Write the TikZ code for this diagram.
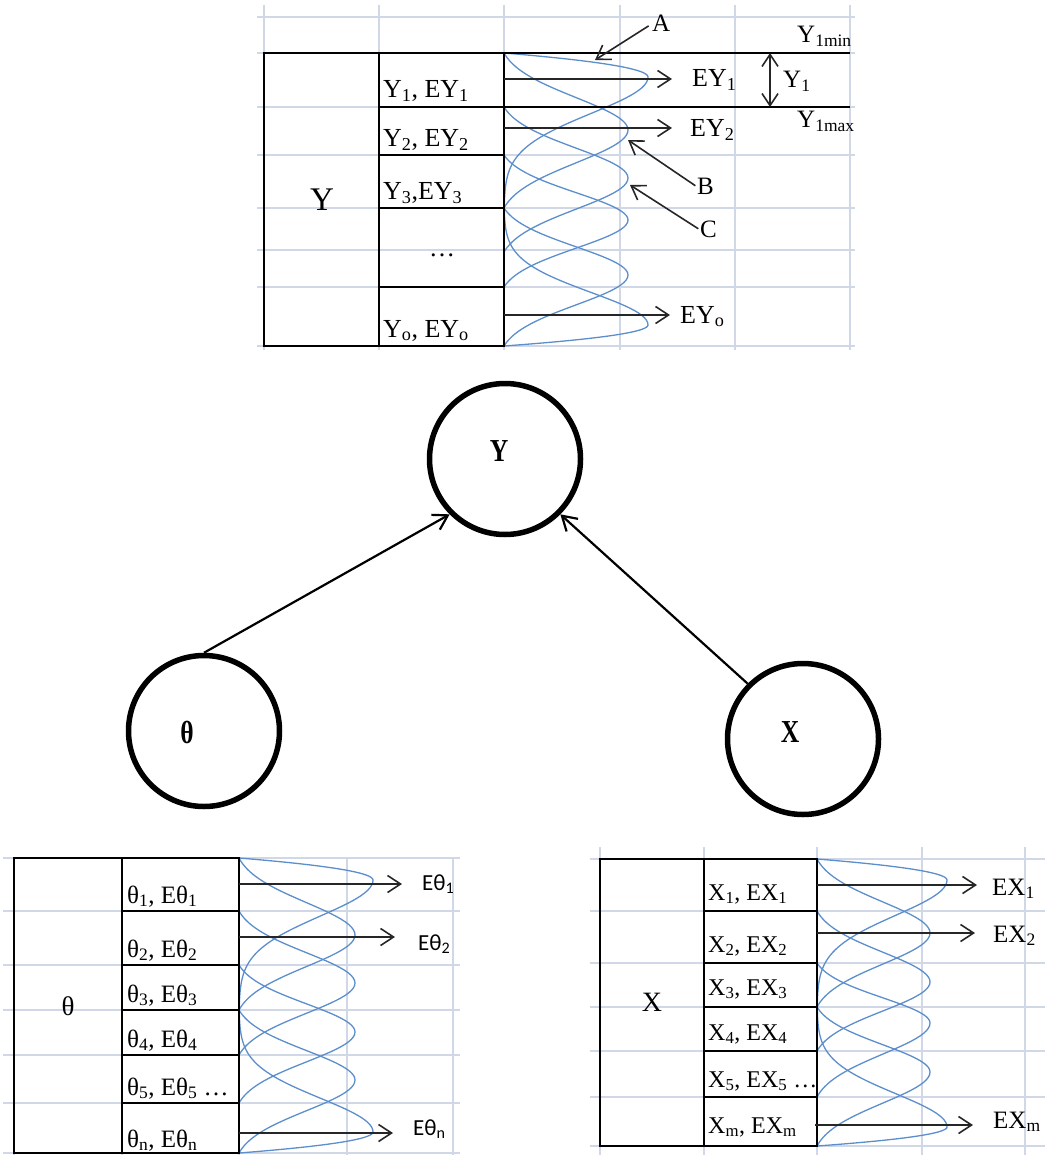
\documentclass[tikz,border=0pt]{standalone}
\usepackage{fontspec}
\setmainfont{Liberation Serif}
\newfontfamily\calibrifont{Carlito}
\usetikzlibrary{arrows.meta}

\definecolor{gridc}{RGB}{208,216,232}
\definecolor{bellc}{RGB}{92,142,204}
\definecolor{arrowc}{RGB}{38,38,38}

% 一组钟形曲线:首/末两条不对称,中间几条对称
% #1 左边界 x0, #2 顶 y, #3 首峰 y, #4 中线 y, #5 末峰 y, #6 底 y
% #7 首末峰宽, #8 中间峰宽, #9 中间曲线 起点/峰/终点 列表
\newcommand{\drawbells}[9]{%
	\draw[bellLine]
		plot[domain=#2:#3, samples=20] ({#1+#7*bellcap((\x-#3)/(#3-#2))}, \x)
		-- plot[domain=#3:#4, samples=50] ({#1+#7*belltail((\x-#3)/(#4-#3))}, \x)
		-- plot[domain=#4:#5, samples=50] ({#1+#7*belltail((\x-#5)/(#5-#4))}, \x)
		-- plot[domain=#5:#6, samples=20] ({#1+#7*bellcap((\x-#5)/(#6-#5))}, \x);
	\foreach \ya/\ym/\yb in {#9} {
		\draw[bellLine]
			plot[domain=\ya:\ym, samples=30] ({#1+#8*bellmid((\x-\ym)/(\ym-\ya))}, \x)
			-- plot[domain=\ym:\yb, samples=30] ({#1+#8*bellmid((\x-\ym)/(\yb-\ym))}, \x);
	}
}

\begin{document}
\begin{tikzpicture}[x=1pt, y=-1pt,
	declare function={
		bellmid(\t)=(exp(-2.83*\t*\t)-0.059)/0.941;
		belltail(\t)=exp(-6.5*\t*\t);
		bellcap(\t)=1-\t*\t;
	},
	gridLine/.style={draw=gridc, line width=1.2pt},
	bellLine/.style={draw=bellc, line width=1.3pt},
	tableLine/.style={draw=black, line width=1.6pt},
	pointer/.style={-{Straight Barb[length=13pt,width=17pt]}, draw=arrowc, line width=1.6pt},
	span/.style={{Straight Barb[length=12pt,width=16pt]}-{Straight Barb[length=12pt,width=16pt]}, draw=arrowc, line width=1.6pt},
	edgeLine/.style={-{Straight Barb[length=14pt,width=17pt]}, draw=black, line width=2.2pt},
	ring/.style={circle, draw=black, line width=5.5pt, minimum size=151pt, inner sep=0pt},
	ringLab/.style={inner sep=0pt, font=\bfseries\fontsize{32}{34}\selectfont},
	cellText/.style={anchor=base west, inner sep=0pt},
	mainLab/.style={inner sep=0pt},
]
	\useasboundingbox (0,0) rectangle (1045,1155);

	% ==================================================
	% 1. 网格线 (表格底纹)
	% ==================================================
	\foreach \gx in {264,379,504,620,735,850} \draw[gridLine] (\gx,5) -- (\gx,350);
	\foreach \gy in {17,53,107,155,208,250,287,346} \draw[gridLine] (257,\gy) -- (855,\gy);
	\foreach \gx in {14,122,239,347,453} \draw[gridLine] (\gx,858) -- (\gx,1155);
	\foreach \gy in {858,911,965,1010,1055,1103,1153} \draw[gridLine] (3,\gy) -- (460,\gy);
	\foreach \gx in {600,704,817,922,1025} \draw[gridLine] (\gx,847) -- (\gx,1155);
	\foreach \gy in {859,911,963,1007,1051,1097,1146} \draw[gridLine] (590,\gy) -- (1045,\gy);

	% ==================================================
	% 2. 钟形曲线
	% ==================================================
	\drawbells{504}{53}{77}{208}{325}{346}{144}{124}{53/130/208, 107/178/252, 155/220/287, 208/275/346}
	\drawbells{239}{858}{880}{1010}{1132}{1153}{134}{116}{858/935/1010, 911/983/1055, 965/1032/1103, 1010/1080/1153}
	\drawbells{817}{859}{880}{1007}{1127}{1146}{130}{113}{859/933/1007, 911/982/1051, 963/1023/1097, 1007/1072/1146}

	% ==================================================
	% 3. 表格 Y
	% ==================================================
	\draw[tableLine] (264,53) rectangle (504,346);
	\draw[tableLine] (379,53) -- (379,346);
	\foreach \ry in {107,155,208,287} \draw[tableLine] (379,\ry) -- (504,\ry);
	\draw[tableLine] (504,53) -- (850,53);
	\draw[tableLine] (504,107) -- (850,107);

	\node[mainLab, font=\fontsize{33}{36}\selectfont] (ymain) at (322,200) {Y};
	\begin{scope}[every node/.append style={font=\fontsize{26}{30}\selectfont}]
		\node[cellText] (y1) at (383,98) {Y\textsubscript{1}, EY\textsubscript{1}};
		\node[cellText] (y2) at (383,147) {Y\textsubscript{2}, EY\textsubscript{2}};
		\node[cellText] (y3) at (383,200) {Y\textsubscript{3},EY\textsubscript{3}};
		\node[cellText, anchor=base] (ydots) at (442,257) {…};
		\node[cellText] (yo) at (383,337) {Y\textsubscript{o}, EY\textsubscript{o}};

		\node[cellText] (ey1) at (692,87) {EY\textsubscript{1}};
		\node[cellText] (ey2) at (690,137) {EY\textsubscript{2}};
		\node[cellText] (eyo) at (680,323) {EY\textsubscript{o}};
	\end{scope}

	% 期望值箭头
	\coordinate (ey1a) at (504,79);  \coordinate (ey1b) at (672,79);
	\coordinate (ey2a) at (504,128); \coordinate (ey2b) at (672,128);
	\coordinate (eyoa) at (504,315); \coordinate (eyob) at (670,315);
	\draw[pointer] (ey1a) -- (ey1b);
	\draw[pointer] (ey2a) -- (ey2b);
	\draw[pointer] (eyoa) -- (eyob);

	% 区间 Y1
	\coordinate (ymin) at (770,53);
	\coordinate (ymax) at (770,107);
	\draw[span] (ymin) -- (ymax);
	\begin{scope}[every node/.append style={font=\fontsize{25}{28}\selectfont}]
		\node[cellText] (yint) at (783,88) {Y\textsubscript{1}};
		\node[cellText] (yminlab) at (797,43) {Y\textsubscript{1min}};
		\node[cellText] (ymaxlab) at (797,128) {Y\textsubscript{1max}};

		% 曲线标注 A B C
		\node[cellText] (labA) at (652,32) {A};
		\node[cellText] (labB) at (697,195) {B};
		\node[cellText] (labC) at (700,238) {C};
	\end{scope}
	\coordinate (tipA) at (595,60);
	\coordinate (tipB) at (628,140);
	\coordinate (tipC) at (630,185);
	\draw[pointer, shorten <=4pt] (labA.west) -- (tipA);
	\draw[pointer, shorten <=2pt] (labB.west) -- (tipB);
	\draw[pointer, shorten <=2pt] (labC.west) -- (tipC);

	% ==================================================
	% 4. 中间的三个节点
	% ==================================================
	\node[ring] (Y) at (505,459) {};
	\node[ring] (theta) at (204,731) {};
	\node[ring] (X) at (803,739) {};
	\node[ringLab] (Ytxt) at (499,451) {\scalebox{0.8}[1]{Y}};
	\node[ringLab] (thetatxt) at (187,732) {\scalebox{0.8}[1]{θ}};
	\node[ringLab] (Xtxt) at (790,732) {\scalebox{0.8}[1]{X}};

	\draw[edgeLine] (theta.north) -- (Y.225);
	\draw[edgeLine] (X.135) -- (Y.315);

	% ==================================================
	% 5. 表格 theta
	% ==================================================
	\draw[tableLine] (14,858) rectangle (239,1153);
	\draw[tableLine] (122,858) -- (122,1153);
	\foreach \ry in {911,965,1010,1055,1103} \draw[tableLine] (122,\ry) -- (239,\ry);

	\node[mainLab, font=\fontsize{27}{30}\selectfont] (tmain) at (68,1006) {θ};
	\begin{scope}[every node/.append style={font=\fontsize{25}{28}\selectfont}]
		\node[cellText] (t1) at (127,903) {θ\textsubscript{1}, Eθ\textsubscript{1}};
		\node[cellText] (t2) at (127,957) {θ\textsubscript{2}, Eθ\textsubscript{2}};
		\node[cellText] (t3) at (127,1002) {θ\textsubscript{3}, Eθ\textsubscript{3}};
		\node[cellText] (t4) at (127,1047) {θ\textsubscript{4}, Eθ\textsubscript{4}};
		\node[cellText] (t5) at (127,1095) {θ\textsubscript{5}, Eθ\textsubscript{5} …};
		\node[cellText] (tn) at (127,1147) {θ\textsubscript{n}, Eθ\textsubscript{n}};
	\end{scope}
	\begin{scope}[every node/.append style={font=\calibrifont\fontsize{23}{26}\selectfont}]
		\node[cellText] (et1) at (422,890) {Eθ\textsubscript{1}};
		\node[cellText] (et2) at (418,950) {Eθ\textsubscript{2}};
		\node[cellText] (etn) at (413,1135) {Eθ\textsubscript{n}};
	\end{scope}
	\coordinate (et1a) at (239,884);  \coordinate (et1b) at (402,884);
	\coordinate (et2a) at (239,937);  \coordinate (et2b) at (395,937);
	\coordinate (etna) at (239,1133); \coordinate (etnb) at (393,1133);
	\draw[pointer] (et1a) -- (et1b);
	\draw[pointer] (et2a) -- (et2b);
	\draw[pointer] (etna) -- (etnb);

	% ==================================================
	% 6. 表格 X
	% ==================================================
	\draw[tableLine] (600,859) rectangle (817,1146);
	\draw[tableLine] (704,859) -- (704,1146);
	\foreach \ry in {911,963,1007,1051,1097} \draw[tableLine] (704,\ry) -- (817,\ry);

	\node[mainLab, font=\fontsize{28}{30}\selectfont] (xmain) at (652,1002) {X};
	\begin{scope}[every node/.append style={font=\fontsize{24}{27}\selectfont}]
		\node[cellText] (x1) at (708,900) {X\textsubscript{1}, EX\textsubscript{1}};
		\node[cellText] (x2) at (708,952) {X\textsubscript{2}, EX\textsubscript{2}};
		\node[cellText] (x3) at (708,995) {X\textsubscript{3}, EX\textsubscript{3}};
		\node[cellText] (x4) at (708,1040) {X\textsubscript{4}, EX\textsubscript{4}};
		\node[cellText] (x5) at (708,1087) {X\textsubscript{5}, EX\textsubscript{5} …};
		\node[cellText] (xm) at (708,1133) {X\textsubscript{m}, EX\textsubscript{m}};
	\end{scope}
	\begin{scope}[every node/.append style={font=\fontsize{25}{28}\selectfont}]
		\node[cellText] (ex1) at (992,895) {EX\textsubscript{1}};
		\node[cellText] (ex2) at (993,942) {EX\textsubscript{2}};
		\node[cellText] (exm) at (993,1128) {EX\textsubscript{m}};
	\end{scope}
	\coordinate (ex1a) at (817,885);  \coordinate (ex1b) at (977,885);
	\coordinate (ex2a) at (817,933);  \coordinate (ex2b) at (975,933);
	\coordinate (exma) at (815,1125); \coordinate (exmb) at (973,1125);
	\draw[pointer] (ex1a) -- (ex1b);
	\draw[pointer] (ex2a) -- (ex2b);
	\draw[pointer] (exma) -- (exmb);

\end{tikzpicture}
\end{document}
